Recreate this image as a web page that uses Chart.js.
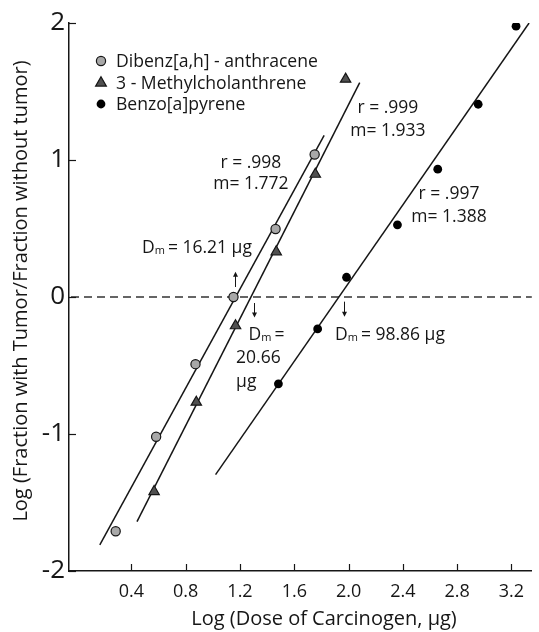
<!DOCTYPE html>
<html><head><meta charset="utf-8">
<script src="https://cdn.jsdelivr.net/npm/chart.js@4.4.1/dist/chart.umd.min.js"></script>
<style>html,body{margin:0;padding:0;background:#fff}canvas{display:block}</style>
</head><body>
<canvas id="c" width="539" height="632"></canvas>
<script>
const FONT = "'Open Sans', 'DejaVu Sans', sans-serif";
const INK = '#161616';

// tick labels
const xTicks = [0.4, 0.8, 1.2, 1.6, 2.0, 2.4, 2.8, 3.2];
const yTicks = [-2, -1, 0, 1, 2];

// series
const seriesNames = ['Dibenz[a,h] - anthracene', '3 - Methylcholanthrene', 'Benzo[a]pyrene'];
const dibenzX = [0.284, 0.582, 0.872, 1.152, 1.462, 1.750];
const dibenzY = [-1.71, -1.02, -0.49, 0.00, 0.496, 1.04];
const methylX = [0.567, 0.878, 1.167, 1.467, 1.755, 1.978];
const methylY = [-1.42, -0.768, -0.21, 0.33, 0.896, 1.59];
const benzoX = [1.483, 1.772, 1.985, 2.360, 2.657, 2.955, 3.234];
const benzoY = [-0.634, -0.233, 0.144, 0.527, 0.933, 1.407, 1.977];

// fitted regression lines (end points)
const dibenzFitX = [0.167, 1.82], dibenzFitY = [-1.81, 1.18];
const methylFitX = [0.441, 2.082], methylFitY = [-1.64, 1.565];
const benzoFitX = [1.02, 3.33], benzoFitY = [-1.297, 2.0];

// annotation texts
const fitLabels = [
  {lines: ['r = .998', 'm= 1.772'], x: 1.28, y: [0.978, 0.825]},
  {lines: ['r = .999', 'm= 1.933'], x: 2.29, y: [1.377, 1.212]},
  {lines: ['r = .997', 'm= 1.388'], x: 2.74, y: [0.752, 0.584]}
];
const dmLabels = [
  {x: 0.478, y: 0.358, parts: [['D', 'm', '= 16.21 µg']]},
  {x: 1.263, y: -0.277, parts: [['D', 'm', '=']]},
  {x: 1.900, y: -0.277, parts: [['D', 'm', '= 98.86 µg']]}
];
const dmExtra = [
  {x: 1.171, y: -0.445, text: '20.66'},
  {x: 1.171, y: -0.62, text: 'µg'}
];
const arrows = [
  {x: 1.161, y0: 0.073, y1: 0.185},
  {x: 1.302, y0: -0.044, y1: -0.150},
  {x: 1.966, y0: -0.034, y1: -0.144}
];

const xTitle = 'Log (Dose of Carcinogen, µg)';
const yTitle = 'Log (Fraction with Tumor/Fraction without tumor)';

const pts = (xs, ys) => xs.map((x, i) => ({x, y: ys[i]}));

const circleFill = '#a8a8a8';
const triFill = '#505050';

function drawMarker(ctx, kind, x, y) {
  ctx.save();
  ctx.lineWidth = 1.2;
  ctx.strokeStyle = INK;
  if (kind === 'circle') {
    ctx.fillStyle = circleFill;
    ctx.beginPath(); ctx.arc(x, y, 4.6, 0, Math.PI * 2); ctx.fill(); ctx.stroke();
  } else if (kind === 'triangle') {
    ctx.fillStyle = triFill;
    const r = 6.2;
    ctx.beginPath();
    ctx.moveTo(x, y - r);
    ctx.lineTo(x + r * 0.866, y + r * 0.5);
    ctx.lineTo(x - r * 0.866, y + r * 0.5);
    ctx.closePath(); ctx.fill(); ctx.stroke();
  } else {
    ctx.fillStyle = '#000';
    ctx.beginPath(); ctx.arc(x, y, 4.4, 0, Math.PI * 2); ctx.fill();
  }
  ctx.restore();
}

const decor = {
  id: 'decor',
  beforeDatasetsDraw(chart) {
    const {ctx, chartArea: ca, scales: {x: xs, y: ys}} = chart;
    ctx.save();
    ctx.strokeStyle = '#333';
    ctx.lineWidth = 1.5;
    ctx.setLineDash([8, 5]);
    const py = ys.getPixelForValue(0);
    ctx.beginPath(); ctx.moveTo(ca.left + 2, py); ctx.lineTo(ca.right, py); ctx.stroke();
    ctx.restore();
  },
  afterDraw(chart) {
    const {ctx, chartArea: ca, scales: {x: xs, y: ys}} = chart;
    ctx.save();
    // inward tick marks
    ctx.strokeStyle = INK; ctx.lineWidth = 1.2;
    xTicks.forEach(v => {
      const px = Math.round(xs.getPixelForValue(v)) + 0.5;
      ctx.beginPath(); ctx.moveTo(px, ca.bottom); ctx.lineTo(px, ca.bottom - 7); ctx.stroke();
    });
    yTicks.forEach(v => {
      const py = Math.round(ys.getPixelForValue(v)) + 0.5;
      ctx.beginPath(); ctx.moveTo(ca.left, py); ctx.lineTo(ca.left + 7, py); ctx.stroke();
    });

    ctx.fillStyle = INK;
    ctx.textBaseline = 'middle';

    // axis titles
    ctx.font = `20px ${FONT}`;
    ctx.textAlign = 'center';
    ctx.fillText(xTitle, 324, 619);
    ctx.save();
    ctx.translate(21, 291);
    ctx.rotate(-Math.PI / 2);
    ctx.fillText(yTitle, 0, 0);
    ctx.restore();

    // legend
    const kinds = ['circle', 'triangle', 'dot'];
    const rows = [61, 83, 104];
    ctx.font = `17.6px ${FONT}`;
    ctx.textAlign = 'left';
    seriesNames.forEach((n, i) => {
      drawMarker(ctx, kinds[i], 101, rows[i]);
      ctx.fillStyle = INK;
      ctx.fillText(n, 116, rows[i] + 1);
    });

    // r / m labels
    ctx.font = `17.5px ${FONT}`;
    ctx.textAlign = 'center';
    fitLabels.forEach(l => {
      l.lines.forEach((t, i) => ctx.fillText(t, xs.getPixelForValue(l.x), ys.getPixelForValue(l.y[i])));
    });

    // Dm labels
    ctx.textAlign = 'left';
    dmLabels.forEach(l => {
      let px = xs.getPixelForValue(l.x);
      const py = ys.getPixelForValue(l.y);
      l.parts.forEach(([a, sub, rest]) => {
        ctx.font = `17.5px ${FONT}`;
        ctx.fillText(a, px, py); px += ctx.measureText(a).width;
        ctx.font = `11px ${FONT}`;
        ctx.fillText(sub, px, py + 3); px += ctx.measureText(sub).width + 3;
        ctx.font = `17.5px ${FONT}`;
        ctx.fillText(rest, px, py);
      });
    });
    ctx.font = `17.5px ${FONT}`;
    dmExtra.forEach(l => ctx.fillText(l.text, xs.getPixelForValue(l.x), ys.getPixelForValue(l.y)));

    // arrows
    ctx.strokeStyle = INK; ctx.lineWidth = 1;
    arrows.forEach(a => {
      const px = Math.round(xs.getPixelForValue(a.x)) + 0.5;
      const p0 = ys.getPixelForValue(a.y0), p1 = ys.getPixelForValue(a.y1);
      const dir = p1 < p0 ? -1 : 1;
      ctx.beginPath(); ctx.moveTo(px, p0); ctx.lineTo(px, p1 - dir * 3); ctx.stroke();
      ctx.beginPath();
      ctx.moveTo(px, p1); ctx.lineTo(px - 2.5, p1 - dir * 5); ctx.lineTo(px + 2.5, p1 - dir * 5);
      ctx.closePath(); ctx.fill();
    });
    ctx.restore();
  }
};

const lineDs = (xs, ys) => ({
  type: 'line', data: pts(xs, ys), borderColor: INK, borderWidth: 1.5,
  pointRadius: 0, fill: false, tension: 0, order: 2
});

new Chart(document.getElementById('c'), {
  type: 'scatter',
  data: {
    datasets: [
      lineDs(dibenzFitX, dibenzFitY),
      lineDs(methylFitX, methylFitY),
      lineDs(benzoFitX, benzoFitY),
      {label: seriesNames[0], data: pts(dibenzX, dibenzY), pointStyle: 'circle', pointRadius: 4.6,
       backgroundColor: circleFill, borderColor: INK, borderWidth: 1.2, order: 1},
      {label: seriesNames[1], data: pts(methylX, methylY), pointStyle: 'triangle', pointRadius: 6,
       backgroundColor: triFill, borderColor: INK, borderWidth: 1.2, order: 1},
      {label: seriesNames[2], data: pts(benzoX, benzoY), pointStyle: 'circle', pointRadius: 4.4,
       backgroundColor: '#000', borderColor: '#000', borderWidth: 0, order: 1}
    ]
  },
  options: {
    responsive: false,
    devicePixelRatio: 1,
    animation: false,
    layout: {padding: {top: 23, right: 1, left: 0, bottom: 0}},
    plugins: {legend: {display: false}, tooltip: {enabled: false}},
    scales: {
      x: {
        type: 'linear', min: -0.06, max: 3.35,
        afterBuildTicks: s => { s.ticks = xTicks.map(v => ({value: v})); },
        afterFit: s => { s.height = 61; },
        grid: {display: false, drawTicks: false},
        border: {display: true, color: INK, width: 1.5},
        ticks: {color: INK, font: {family: FONT, size: 18}, padding: 10,
                callback: v => Number(v).toFixed(1), maxRotation: 0, autoSkip: false}
      },
      y: {
        type: 'linear', min: -2, max: 2,
        afterBuildTicks: s => { s.ticks = yTicks.map(v => ({value: v})); },
        afterFit: s => { s.width = 69; },
        grid: {display: false, drawTicks: false},
        border: {display: true, color: INK, width: 1.5},
        ticks: {color: INK, font: {family: FONT, size: 26}, padding: 4,
                callback: v => String(v)}
      }
    }
  },
  plugins: [decor]
});
</script>
</body></html>
